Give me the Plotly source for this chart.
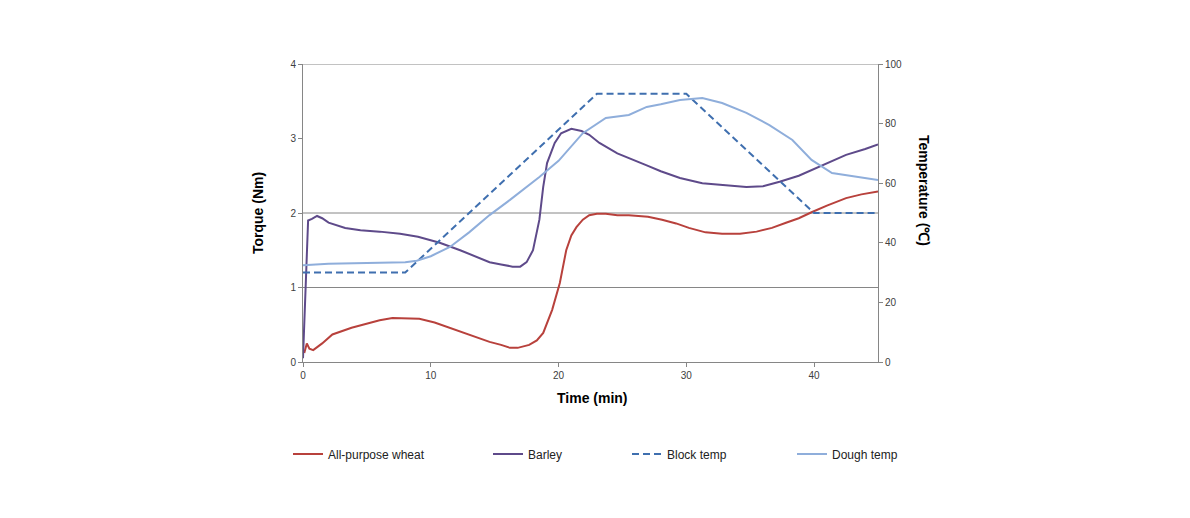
import plotly.graph_objects as go

# ---- data ----
wheat_t = [0.1, 0.3, 0.5, 0.8, 1.5, 2.3, 3.8, 5, 6, 7, 8, 9.1, 10.3, 11.5, 12.8, 14.1, 14.6,
           15.5, 16.2, 16.8, 17.7, 18.3, 18.8, 19.5, 20.1, 20.6, 21.0, 21.4, 21.9, 22.4, 23.0,
           23.7, 24.6, 25.5, 27, 28.1, 29.2, 30.2, 31.5, 32.8, 34.2, 35.5, 36.7, 37.8, 38.8,
           39.8, 41, 42.5, 43.7, 45]
wheat_v = [0.12, 0.25, 0.18, 0.16, 0.25, 0.37, 0.46, 0.52, 0.56, 0.59, 0.59, 0.58, 0.53, 0.46,
           0.38, 0.30, 0.27, 0.23, 0.19, 0.19, 0.23, 0.29, 0.39, 0.70, 1.06, 1.50, 1.70, 1.81,
           1.91, 1.97, 1.99, 1.99, 1.97, 1.97, 1.95, 1.91, 1.86, 1.80, 1.74, 1.72, 1.72, 1.75,
           1.80, 1.87, 1.93, 2.01, 2.10, 2.20, 2.25, 2.29]

barley_t = [0, 0.2, 0.4, 0.7, 1.1, 1.5, 2.0, 3.3, 4.5, 6, 7.6, 9, 10.7, 12.3, 13.8, 14.6, 15.5,
            16.4, 17.0, 17.5, 18.0, 18.5, 18.8, 19.1, 19.7, 20.2, 21.0, 21.8, 22.4, 23.2, 24.6,
            25.5, 26.9, 28, 29.5, 31.25, 33, 34.7, 36, 37.3, 38.8, 40.4, 42.5, 44, 45]
barley_v = [0.05, 1.0, 1.9, 1.92, 1.96, 1.93, 1.87, 1.80, 1.77, 1.75, 1.72, 1.68, 1.60, 1.50,
            1.40, 1.34, 1.31, 1.28, 1.28, 1.34, 1.50, 1.91, 2.35, 2.67, 2.94, 3.07, 3.13, 3.10,
            3.05, 2.94, 2.80, 2.74, 2.64, 2.56, 2.47, 2.40, 2.37, 2.35, 2.36, 2.42, 2.50, 2.62,
            2.78, 2.86, 2.92]

block_t = [0, 8, 23, 30, 40, 45]
block_v = [30, 30, 90, 90, 50, 50]

dough_t = [0, 2, 5, 8, 8.9, 10, 11.5, 13, 14.6, 16.2, 18.5, 20, 21.9, 23.2, 23.7, 25.5, 26.9,
           28, 29.5, 31.25, 32.8, 34.7, 36.5, 38.3, 39.8, 41.4, 43.3, 45]
dough_v = [32.5, 33, 33.2, 33.5, 34, 35.5, 38.6, 43.5, 49.3, 54.4, 62.1, 67.5, 76.8, 80.5,
           81.9, 82.9, 85.6, 86.5, 87.9, 88.6, 86.9, 83.6, 79.5, 74.5, 67.8, 63.4, 62.1, 61.1]

names = ["All-purpose wheat", "Barley", "Block temp", "Dough temp"]
colors = ["#B8413C", "#5E4A8A", "#3F6FAF", "#8FAEDB"]

x_ticks = [0, 10, 20, 30, 40]
torque_ticks = [0, 1, 2, 3, 4]
temp_ticks = [0, 20, 40, 60, 80, 100]
grid_levels = [1, 2, 4]

FONT = "Liberation Sans Narrow, Liberation Sans, Arial, sans-serif"
GRAY = "#868686"
TICKC = "#404040"

fig = go.Figure()
fig.add_trace(go.Scatter(x=wheat_t, y=wheat_v, mode="lines", name=names[0],
                         line=dict(color=colors[0], width=2), legend="legend"))
fig.add_trace(go.Scatter(x=barley_t, y=barley_v, mode="lines", name=names[1],
                         line=dict(color=colors[1], width=2), legend="legend2"))
fig.add_trace(go.Scatter(x=block_t, y=block_v, mode="lines", name=names[2], yaxis="y2",
                         line=dict(color=colors[2], width=2, dash="7px,4px"), legend="legend3"))
fig.add_trace(go.Scatter(x=dough_t, y=dough_v, mode="lines", name=names[3], yaxis="y2",
                         line=dict(color=colors[3], width=2), legend="legend4"))

for g in grid_levels:
    fig.add_shape(type="line", xref="paper", x0=0, x1=1, yref="y", y0=g, y1=g,
                  line=dict(color=GRAY, width=1), layer="below")

# page body has an 8px margin: work in screen pixels, shift by OFF
OFF = 8
FW, FH = 1190 - 2 * OFF, 518 - 2 * OFF
PL, PR, PT, PB = 303, 878, 64, 362  # plot area in screen pixels
L, T = PL - OFF, PT - OFF
W, H = PR - PL, PB - PT
R, B = FW - L - W, FH - T - H

def px2x(p):
    return (p - PL) / W

def py2y(p):
    return (PB - p) / H

legend_common = dict(orientation="h", yanchor="middle", xanchor="left",
                     bgcolor="rgba(0,0,0,0)", font=dict(family=FONT, size=12, color="#222"),
                     y=py2y(454))

fig.update_layout(
    width=FW, height=FH,
    margin=dict(l=L, r=R, t=T, b=B),
    paper_bgcolor="white", plot_bgcolor="white",
    font=dict(family=FONT, size=10, color=TICKC),
    xaxis=dict(range=[0, 45], tickvals=x_ticks, ticks="outside", ticklen=4, tickcolor=GRAY,
               showline=True, linecolor=GRAY, linewidth=1, showgrid=False, zeroline=False,
               tickfont=dict(size=10, color=TICKC)),
    yaxis=dict(range=[0, 4], tickvals=torque_ticks, ticks="outside", ticklen=4, tickcolor=GRAY,
               showline=True, linecolor=GRAY, linewidth=1, showgrid=False, zeroline=False,
               tickfont=dict(size=10, color=TICKC)),
    yaxis2=dict(range=[0, 100], tickvals=temp_ticks, overlaying="y", side="right",
                ticks="outside", ticklen=4, tickcolor=GRAY, showline=True, linecolor=GRAY,
                linewidth=1, showgrid=False, zeroline=False, tickfont=dict(size=10, color=TICKC)),
    legend=dict(x=px2x(288), **legend_common),
    legend2=dict(x=px2x(488), **legend_common),
    legend3=dict(x=px2x(627), **legend_common),
    legend4=dict(x=px2x(792), **legend_common),
    showlegend=True,
)

title_font = dict(family="Liberation Sans, Arial, sans-serif", size=14, color="black")
fig.add_annotation(text="<b>Torque (Nm)</b>", xref="paper", yref="paper", x=px2x(258),
                   y=py2y(213), textangle=-90, showarrow=False, font=title_font,
                   xanchor="center", yanchor="middle")
fig.add_annotation(text="<b>Temperature (℃)</b>", xref="paper", yref="paper", x=px2x(924),
                   y=py2y(190), textangle=90, showarrow=False, font=title_font,
                   xanchor="center", yanchor="middle")
fig.add_annotation(text="<b>Time (min)</b>", xref="paper", yref="paper", x=px2x(592),
                   y=py2y(398), showarrow=False, font=title_font,
                   xanchor="center", yanchor="middle")

fig.write_html("out.html")
